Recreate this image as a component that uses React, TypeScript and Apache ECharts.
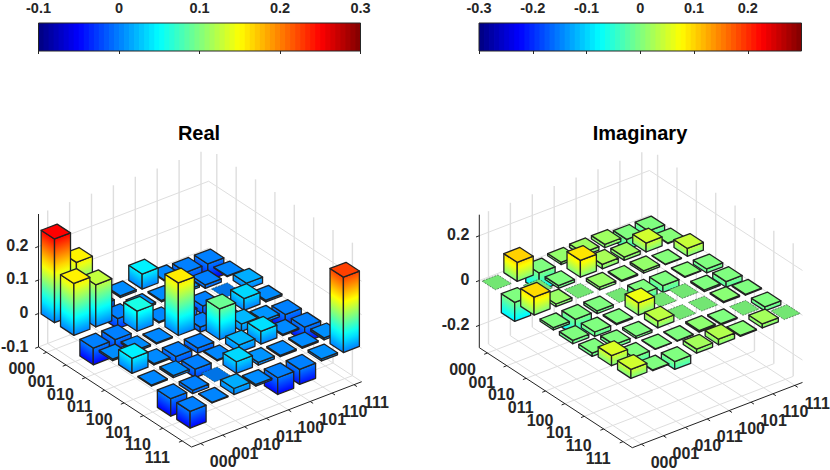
import * as echarts from "echarts";
import React, { useEffect, useRef } from "react";

const bitLabels = ["000", "001", "010", "011", "100", "101", "110", "111"];

const realRows = [
  [0.25, 0.155, -0.05, 0.005, 0.045, 0.003, -0.052, -0.05],
  [0.155, 0.126, -0.03, 0.005, 0.004, 0.006, -0.01, 0.002],
  [-0.05, -0.03, 0.06, 0.003, -0.02, -0.025, 0, 0.018],
  [0.005, 0.005, 0.003, 0.157, -0.015, 0.003, 0.035, 0.005],
  [0.045, 0.004, -0.02, -0.015, 0.092, 0.022, 0.008, -0.05],
  [0.003, 0.006, -0.025, 0.003, 0.022, 0.038, 0.004, -0.045],
  [-0.052, -0.01, 0, 0.035, 0.008, 0.004, 0.004, 0.006],
  [-0.05, 0.002, 0.018, 0.005, -0.05, -0.045, 0.006, 0.225]
];

const imagRows = [
  [0, 0.085, -0.08, 0.01, 0.015, 0.015, -0.045, -0.04],
  [-0.085, 0, -0.012, 0.075, 0.02, 0.015, 0.04, 0.003],
  [0.08, 0.012, 0, 0.012, 0.005, 0.01, 0.002, 0.035],
  [-0.01, -0.075, -0.012, 0, -0.055, -0.03, 0.003, -0.018],
  [-0.015, -0.02, -0.005, 0.055, 0, 0, -0.007, -0.025],
  [-0.015, -0.015, -0.01, 0.03, 0, 0, 0.005, -0.004],
  [0.045, -0.04, -0.002, -0.003, 0.007, -0.005, 0, -0.018],
  [0.04, -0.003, -0.035, 0.018, 0.025, 0.004, 0.018, 0]
];

const realZTicks = [-0.1, 0, 0.1, 0.2];
const imagZTicks = [-0.2, 0, 0.2];
const realBarTicks = [-0.1, 0, 0.1, 0.2, 0.3];
const imagBarTicks = [-0.3, -0.2, -0.1, 0, 0.1, 0.2];

const FONT = "Liberation Sans";
const TEXT = "#262626";
const GRID = "#dedede";
const EDGE = "#222";

// view of the box: steps of one cell along each floor direction
const U = [19.37, 12.66];
const V = [21.9, -8.4];
const I_MIN = -0.42;
const I_MAX = 7.48;
const J_MIN = -0.42;
const J_MAX = 7.35;
const BOX_H = 133;
const HALF_I = 0.345;
const HALF_J = 0.365;

const panels = [
  { ox: 38.5, oy: 347, zMin: -0.1, zMax: 0.297, cMin: -0.1, cMax: 0.3, gain: 1, rows: realRows, zTicks: realZTicks },
  { ox: 479.3, oy: 347.7, zMin: -0.3, zMax: 0.294, cMin: -0.3, cMax: 0.3, gain: 1.2, rows: imagRows, zTicks: imagZTicks }
];

const clip01 = (x: number) => Math.max(0, Math.min(1, x));
const jet = (t: number, shade = 1) => {
  const r = clip01(1.5 - Math.abs(4 * t - 3));
  const g = clip01(1.5 - Math.abs(4 * t - 2));
  const b = clip01(1.5 - Math.abs(4 * t - 1));
  return `rgb(${Math.round(r * 255 * shade)},${Math.round(g * 255 * shade)},${Math.round(b * 255 * shade)})`;
};
const colorOf = (z: number, p: any, shade = 1) => {
  const c = z > 0 ? z * p.gain : z;
  return jet(clip01((c - p.cMin) / (p.cMax - p.cMin)), shade);
};

const makeProject = (p: any) => {
  const scale = BOX_H / (p.zMax - p.zMin);
  return (i: number, j: number, z: number) => [
    p.ox + (i - I_MIN) * U[0] + (j - J_MIN) * V[0],
    p.oy + (i - I_MIN) * U[1] + (j - J_MIN) * V[1] - (z - p.zMin) * scale
  ];
};

const line = (a: number[], b: number[], stroke: string, lineWidth = 1) => ({
  type: "line",
  silent: true,
  shape: { x1: a[0], y1: a[1], x2: b[0], y2: b[1] },
  style: { stroke, lineWidth }
});

const label = (text: string, x: number, y: number, align: string) => ({
  type: "text",
  silent: true,
  style: {
    text,
    x,
    y,
    align,
    verticalAlign: "middle",
    fontFamily: FONT,
    fontSize: 16,
    fontWeight: "bold",
    fill: TEXT
  }
});

const frameChildren = (p: any) => {
  const P = makeProject(p);
  const out: any[] = [];
  bitLabels.forEach((_, k) => {
    // floor
    out.push(line(P(k, J_MIN, p.zMin), P(k, J_MAX, p.zMin), GRID));
    out.push(line(P(I_MIN, k, p.zMin), P(I_MAX, k, p.zMin), GRID));
    // back walls
    out.push(line(P(I_MIN, k, p.zMin), P(I_MIN, k, p.zMax), GRID, 1.4));
    out.push(line(P(k, J_MAX, p.zMin), P(k, J_MAX, p.zMax), GRID, 1.4));
  });
  p.zTicks.forEach((z: number) => {
    out.push(line(P(I_MIN, J_MIN, z), P(I_MIN, J_MAX, z), GRID));
    out.push(line(P(I_MIN, J_MAX, z), P(I_MAX, J_MAX, z), GRID));
  });
  // axes
  out.push(line(P(I_MIN, J_MIN, p.zMin), P(I_MIN, J_MIN, p.zMax), EDGE));
  out.push(line(P(I_MIN, J_MIN, p.zMin), P(I_MAX, J_MIN, p.zMin), EDGE));
  out.push(line(P(I_MAX, J_MIN, p.zMin), P(I_MAX, J_MAX, p.zMin), EDGE));
  bitLabels.forEach((text, k) => {
    const a = P(k, J_MIN, p.zMin);
    out.push(line(a, P(k, J_MIN - 0.15, p.zMin), EDGE));
    out.push(label(text, a[0] - 24.9, a[1] + 16.5, "center"));
    const b = P(I_MAX, k, p.zMin);
    out.push(line(b, P(I_MAX + 0.15, k, p.zMin), EDGE));
    out.push(label(text, b[0] + 22.5, b[1] + 18, "center"));
  });
  p.zTicks.forEach((z: number) => {
    const a = P(I_MIN, J_MIN, z);
    out.push(line(a, P(I_MIN, J_MIN - 0.15, z), EDGE));
    out.push(label(String(z), a[0] - 10, a[1] - 1, "right"));
  });
  return out;
};

const sideFill = (a: number[], b: number[], h: number, zTop: number, zBottom: number, p: any) => {
  // colour bands run parallel to the top edge of the face
  const len = Math.hypot(b[0] - a[0], b[1] - a[1]);
  let nx = -(b[1] - a[1]) / len;
  let ny = (b[0] - a[0]) / len;
  if (ny < 0) {
    nx = -nx;
    ny = -ny;
  }
  const stops = [];
  for (let s = 0; s <= 12; s++) {
    const z = zTop + ((zBottom - zTop) * s) / 12;
    stops.push({ offset: s / 12, color: colorOf(z, p) });
  }
  return new echarts.graphic.LinearGradient(a[0], a[1], a[0] + nx * h * ny, a[1] + ny * h * ny, stops, true);
};

const barChildren = (i: number, j: number, v: number, p: any) => {
  const P = makeProject(p);
  const zTop = Math.max(v, 0);
  const zBottom = Math.min(v, 0);
  const corner = (di: number, dj: number, z: number) => P(i + di * HALF_I, j + dj * HALF_J, z);
  const tl = corner(-1, -1, zTop);
  const tf = corner(1, -1, zTop);
  const tr = corner(1, 1, zTop);
  const tb = corner(-1, 1, zTop);
  if (v === 0) {
    return [
      {
        type: "polygon",
        silent: true,
        shape: { points: [tl, tf, tr, tb] },
        style: { fill: colorOf(0, p, 0.9), stroke: "rgba(40,70,50,0.6)", lineWidth: 1, lineDash: [2, 1] }
      }
    ];
  }
  const bl = corner(-1, -1, zBottom);
  const bf = corner(1, -1, zBottom);
  const br = corner(1, 1, zBottom);
  const h = bf[1] - tf[1];
  const edge = { stroke: EDGE, lineWidth: 1.3, lineJoin: "round" };
  return [
    {
      type: "polygon",
      silent: true,
      shape: { points: [tl, tf, bf, bl] },
      style: { fill: sideFill(tl, tf, h, zTop, zBottom, p), ...edge }
    },
    {
      type: "polygon",
      silent: true,
      shape: { points: [tf, tr, br, bf] },
      style: { fill: sideFill(tf, tr, h, zTop, zBottom, p), ...edge }
    },
    {
      type: "polygon",
      silent: true,
      shape: { points: [tl, tf, tr, tb] },
      style: { fill: colorOf(zTop, p), ...edge }
    }
  ];
};

const barData = (rows: number[][]) => {
  // back corner first, front corner last
  const out: number[][] = [];
  rows.forEach((row, i) => {
    for (let j = row.length - 1; j >= 0; j--) out.push([i, j, row[j]]);
  });
  return out;
};

const colorLevels = (min: number, max: number) => {
  const out: number[][] = [];
  for (let k = 0; k < 64; k++) {
    out.push([min + ((max - min) * k) / 64, min + ((max - min) * (k + 1)) / 64, (k + 0.5) / 64]);
  }
  return out;
};

const barAxis = (gridIndex: number, min: number, max: number, ticks: number[]) => ({
  type: "value",
  gridIndex,
  position: "top",
  z: 5,
  min,
  max,
  splitLine: { show: false },
  axisLine: { show: false },
  axisTick: { show: true, inside: true, length: 3, customValues: ticks, lineStyle: { color: TEXT } },
  axisLabel: {
    show: true,
    customValues: ticks,
    margin: 8,
    fontFamily: FONT,
    fontSize: 14.5,
    fontWeight: "bold",
    color: TEXT
  }
});

const colorBarSeries = (index: number, min: number, max: number) => ({
  type: "custom",
  xAxisIndex: index,
  yAxisIndex: index,
  silent: true,
  data: colorLevels(min, max),
  renderItem: (_: any, api: any) => {
    const a = api.coord([api.value(0), 0]);
    const b = api.coord([api.value(1), 1]);
    const last = api.value(1) >= max - 1e-9;
    return {
      type: "rect",
      shape: { x: a[0], y: b[1], width: b[0] - a[0] + (last ? 0 : 0.8), height: a[1] - b[1] },
      style: { fill: jet(api.value(2)) }
    };
  }
});

const panelSeries = (p: any) => [
  {
    type: "custom",
    coordinateSystem: "none",
    silent: true,
    data: [[0]],
    renderItem: () => ({ type: "group", children: frameChildren(p) })
  },
  {
    type: "custom",
    coordinateSystem: "none",
    silent: true,
    data: barData(p.rows),
    renderItem: (_: any, api: any) => ({
      type: "group",
      children: barChildren(api.value(0), api.value(1), api.value(2), p)
    })
  }
];

const titleStyle = { fontFamily: FONT, fontSize: 20, fontWeight: "bold", color: "#000" };

const App = () => {
  const ref = useRef<HTMLDivElement>(null);

  useEffect(() => {
    const chart = echarts.init(ref.current, null, { renderer: "svg" });
    chart.setOption({
      animation: false,
      backgroundColor: "#fff",
      title: [
        { text: "Real", left: 194, top: 118, textAlign: "center", textStyle: titleStyle },
        { text: "Imaginary", left: 635, top: 118, textAlign: "center", textStyle: titleStyle }
      ],
      grid: [
        { left: 38.5, top: 23, width: 322, height: 28, z: 4, show: true, borderColor: TEXT, borderWidth: 1, backgroundColor: "transparent" },
        { left: 479, top: 23, width: 322.5, height: 28, z: 4, show: true, borderColor: TEXT, borderWidth: 1, backgroundColor: "transparent" }
      ],
      xAxis: [barAxis(0, -0.1, 0.3, realBarTicks), barAxis(1, -0.3, 0.3, imagBarTicks)],
      yAxis: [
        { type: "value", gridIndex: 0, min: 0, max: 1, show: false },
        { type: "value", gridIndex: 1, min: 0, max: 1, show: false }
      ],
      series: [
        colorBarSeries(0, -0.1, 0.3),
        colorBarSeries(1, -0.3, 0.3),
        ...panelSeries(panels[0]),
        ...panelSeries(panels[1])
      ]
    });
    return () => {
      chart.dispose();
    };
  }, []);

  return <div ref={ref} style={{ position: "absolute", left: 0, top: 0, width: 830, height: 470 }}></div>;
};

export default App;
